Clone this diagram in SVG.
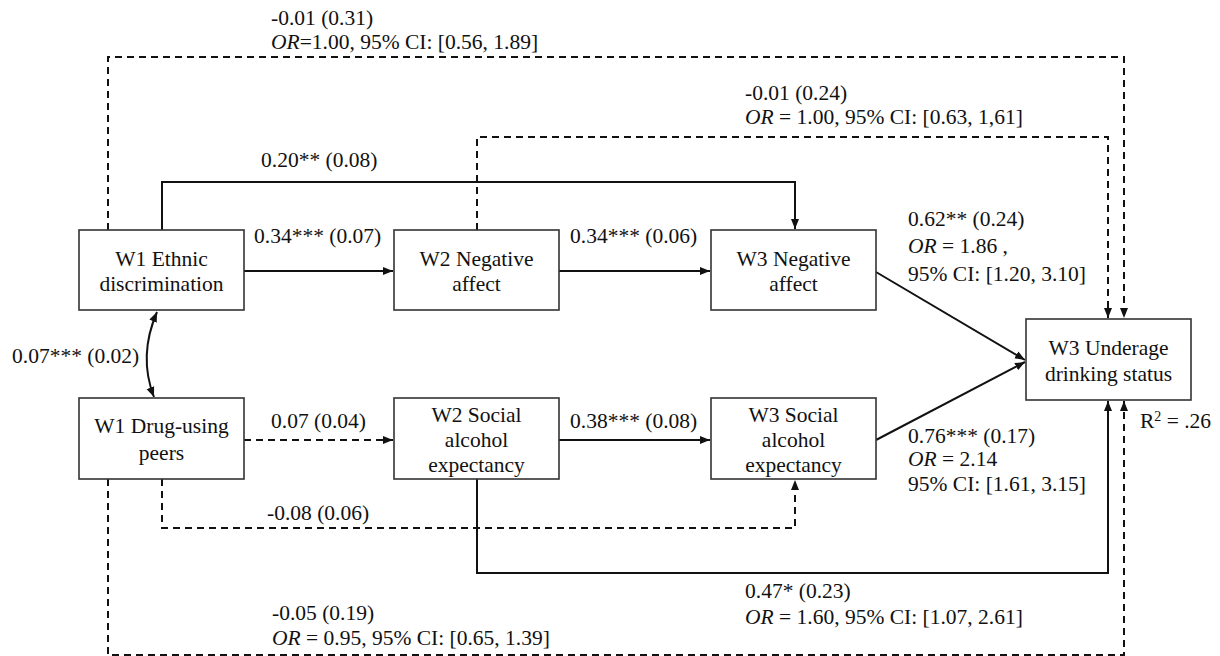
<svg xmlns="http://www.w3.org/2000/svg" width="1220" height="656" viewBox="0 0 1220 656" font-family="'Liberation Serif', 'DejaVu Serif', serif">
<style>
text{font-family:'Liberation Serif','Times New Roman','DejaVu Serif',serif;font-size:21.5px;fill:#111}
.box rect{fill:#fff;stroke:#333;stroke-width:1.6}
.box text{text-anchor:middle}
.c{fill:none;stroke:#111;stroke-width:2}
.d{stroke-dasharray:7 5}
.i{font-style:italic}
</style>
<defs>
<marker id="ah" markerUnits="userSpaceOnUse" markerWidth="10" markerHeight="10" viewBox="0 0 10 10" refX="10" refY="5" orient="auto-start-reverse">
<path d="M0,1 L10,5 L0,9 z" fill="#111"/>
</marker>
</defs>
<rect width="1220" height="656" fill="#fff"/>
<g id="connectors">
<path class="c d" d="M108,230 V57 H1124 V318" marker-end="url(#ah)"/>
<path class="c d" d="M477,230 V137 H1108 V318" marker-end="url(#ah)"/>
<path class="c" d="M162,230 V182 H795 V229" marker-end="url(#ah)"/>
<path class="c" d="M244,271 H393" marker-end="url(#ah)"/>
<path class="c" d="M559,271 H710" marker-end="url(#ah)"/>
<path class="c" d="M876,272 L1025,360" marker-end="url(#ah)"/>
<path class="c" d="M876,440 L1025,362" marker-end="url(#ah)"/>
<path class="c d" d="M244,440 H393" marker-end="url(#ah)"/>
<path class="c" d="M559,440 H710" marker-end="url(#ah)"/>
<path class="c" d="M157,312 Q138,356 154,397" marker-start="url(#ah)" marker-end="url(#ah)"/>
<path class="c d" d="M162,479 V528 H795 V480" marker-end="url(#ah)"/>
<path class="c" d="M477,479 V573 H1108 V401" marker-end="url(#ah)"/>
<path class="c d" d="M108,479 V655 H1124 V401" marker-end="url(#ah)"/>
</g>
<g id="n1" class="box"><rect x="79" y="230" width="165" height="80"/><text x="161.5" y="266">W1 Ethnic</text><text x="161.5" y="291">discrimination</text></g>
<g id="n2" class="box"><rect x="394" y="230" width="165" height="80"/><text x="476.5" y="266">W2 Negative</text><text x="476.5" y="291">affect</text></g>
<g id="n3" class="box"><rect x="711" y="230" width="165" height="80"/><text x="793.5" y="266">W3 Negative</text><text x="793.5" y="291">affect</text></g>
<g id="n4" class="box"><rect x="1026" y="319" width="165" height="81"/><text x="1108.5" y="355">W3 Underage</text><text x="1108.5" y="381">drinking status</text></g>
<g id="n5" class="box"><rect x="79" y="398" width="165" height="81"/><text x="161.5" y="433">W1 Drug-using</text><text x="161.5" y="460">peers</text></g>
<g id="n6" class="box"><rect x="394" y="398" width="165" height="81"/><text x="476.5" y="422">W2 Social</text><text x="476.5" y="447">alcohol</text><text x="476.5" y="472">expectancy</text></g>
<g id="n7" class="box"><rect x="711" y="398" width="165" height="81"/><text x="793.5" y="422">W3 Social</text><text x="793.5" y="447">alcohol</text><text x="793.5" y="472">expectancy</text></g>
<g id="labels">
<text x="271" y="25">-0.01 (0.31)</text>
<text x="271" y="49"><tspan class="i">OR</tspan>=1.00, 95% CI: [0.56, 1.89]</text>
<text x="745" y="100">-0.01 (0.24)</text>
<text x="745" y="124"><tspan class="i">OR</tspan> = 1.00, 95% CI: [0.63, 1,61]</text>
<text x="261" y="167">0.20** (0.08)</text>
<text x="908" y="226">0.62** (0.24)</text>
<text x="908" y="253"><tspan class="i">OR</tspan> = 1.86 ,</text>
<text x="908" y="281">95% CI: [1.20, 3.10]</text>
<text x="254" y="243">0.34*** (0.07)</text>
<text x="570" y="243">0.34*** (0.06)</text>
<text x="12" y="363">0.07*** (0.02)</text>
<text x="271" y="428">0.07 (0.04)</text>
<text x="570" y="428">0.38*** (0.08)</text>
<text x="1140" y="428">R<tspan font-size="14" dy="-7">2</tspan><tspan dy="7"> = .26</tspan></text>
<text x="908" y="443">0.76*** (0.17)</text>
<text x="908" y="466"><tspan class="i">OR</tspan> = 2.14</text>
<text x="908" y="491">95% CI: [1.61, 3.15]</text>
<text x="267" y="520">-0.08 (0.06)</text>
<text x="745" y="598">0.47* (0.23)</text>
<text x="745" y="624"><tspan class="i">OR</tspan> = 1.60, 95% CI: [1.07, 2.61]</text>
<text x="272" y="620">-0.05 (0.19)</text>
<text x="272" y="645"><tspan class="i">OR</tspan> = 0.95, 95% CI: [0.65, 1.39]</text>
</g>
</svg>
